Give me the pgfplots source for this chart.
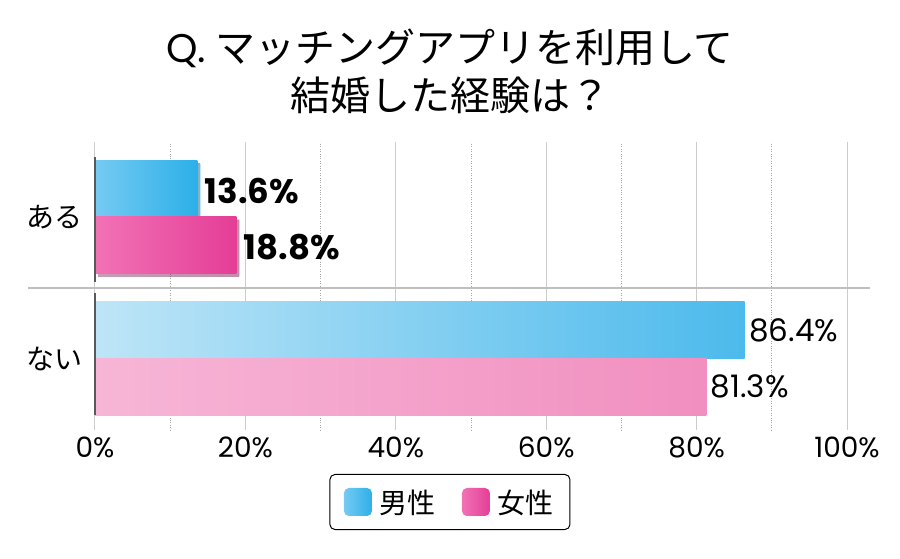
\documentclass[border=0pt]{standalone}
\usepackage{fontspec}
\usepackage{pgfplots}
\pgfplotsset{compat=1.18}
\usetikzlibrary{shadows}
\setmainfont{Noto Sans CJK JP}
\newfontfamily\numfont{Poppins}

\definecolor{blueL}{RGB}{118,202,242}
\definecolor{blueR}{RGB}{44,176,232}
\definecolor{pinkL}{RGB}{242,114,182}
\definecolor{pinkR}{RGB}{228,62,150}
\definecolor{pblueL}{RGB}{190,229,247}
\definecolor{pblueR}{RGB}{76,186,236}
\definecolor{ppinkL}{RGB}{247,182,214}
\definecolor{ppinkR}{RGB}{241,143,192}

\begin{document}
\begin{tikzpicture}[x=1pt,y=1pt]
\useasboundingbox (0,0) rectangle (900,559);
\node[font=\fontsize{40}{40}\selectfont] at (450,511) {{\numfont Q.} マッチングアプリを利用して};
\node[font=\fontsize{40}{40}\selectfont] at (450,464) {結婚した経験は？};
\begin{axis}[
  at={(95pt,129pt)}, anchor=south west,
  scale only axis, width=752pt, height=288pt,
  xmin=0, xmax=100, ymin=-0.505, ymax=1.53,
  xbar, bar width=57pt, bar shift=0pt,
  axis line style={draw=none},
  xtick={0,20,...,100}, minor xtick={10,30,...,90},
  xticklabels={0\%,20\%,40\%,60\%,80\%,100\%},
  xticklabel style={font=\numfont\fontsize{28}{28}\selectfont, yshift=-3pt},
  major tick length=0pt, minor tick length=0pt,
  xmajorgrids, xminorgrids,
  major grid style={gray!40, line width=1pt},
  minor grid style={gray!70, dotted, line width=1pt},
  ytick={0,1},
  yticklabels={{\fontsize{28}{28}\selectfont ない},{\fontsize{28}{28}\selectfont ある}},
  y tick label style={font=\fontsize{28}{28}\selectfont, xshift=-9pt},
  point meta=x,
  /pgf/number format/assume math mode=true,
  nodes near coords={\pgfmathprintnumber[fixed,fixed zerofill,precision=1]{\pgfplotspointmeta}\%},
  clip=false,
  legend columns=2,
  legend style={at={(0.472,-0.25)}, anchor=center, draw=black, rounded corners=5pt,
    line width=1pt, font=\fontsize{28}{28}\selectfont, inner xsep=14pt, inner ysep=13pt,
    /tikz/every even column/.append style={column sep=24pt},
    /tikz/every odd column/.append style={column sep=6pt}},
]
% ある
\addplot[forget plot, draw=none, left color=blueL, right color=blueR,
  drop shadow={shadow xshift=3pt, shadow yshift=-3pt, opacity=0.3, fill=black},
  every node near coord/.append style={font=\numfont\bfseries\fontsize{34}{34}\selectfont, black, xshift=4pt, yshift=-2pt}]
  coordinates {(13.6,1.201)};
\addplot[forget plot, draw=none, left color=pinkL, right color=pinkR,
  drop shadow={shadow xshift=3pt, shadow yshift=-3pt, opacity=0.3, fill=black},
  every node near coord/.append style={font=\numfont\bfseries\fontsize{34}{34}\selectfont, black, xshift=4pt, yshift=-2pt}]
  coordinates {(18.8,0.802)};
% ない
\addplot[forget plot, draw=none, left color=pblueL, right color=pblueR,
  every node near coord/.append style={font=\numfont\fontsize{31}{31}\selectfont, black, xshift=1pt}]
  coordinates {(86.4,0.201)};
\addplot[forget plot, draw=none, left color=ppinkL, right color=ppinkR,
  every node near coord/.append style={font=\numfont\fontsize{31}{31}\selectfont, black, xshift=1pt}]
  coordinates {(81.3,-0.198)};
\addlegendimage{legend image code/.code={\shade[draw=none,left color=blueL,right color=blueR] (0pt,-14pt) rectangle (28pt,14pt);}}
\addlegendimage{legend image code/.code={\shade[draw=none,left color=pinkL,right color=pinkR] (0pt,-14pt) rectangle (28pt,14pt);}}
\legend{男性,女性}
\draw[gray!50, line width=1.2pt] (axis cs:-8.9,0.498) -- (axis cs:103,0.498);
\draw[black!65, line width=1.5pt] (axis cs:0,0.54) -- (axis cs:0,1.424);
\draw[black!65, line width=1.5pt] (axis cs:0,-0.40) -- (axis cs:0,0.46);
\end{axis}
\end{tikzpicture}
\end{document}
